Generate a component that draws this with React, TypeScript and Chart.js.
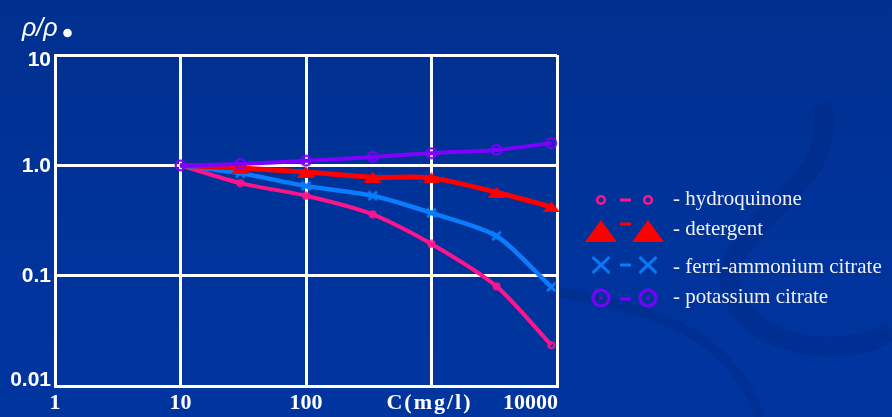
import React, { useEffect, useRef } from "react";
import { Chart, registerables } from "chart.js";

Chart.register(...registerables);

// ---- data ----
const concentrations = [10, 30, 100, 340, 1000, 3300, 9000];
const potassiumCitrate = [1.0, 1.03, 1.1, 1.19, 1.29, 1.38, 1.59];
const detergent = [1.0, 0.945, 0.87, 0.78, 0.77, 0.57, 0.42];
const ferriAmmoniumCitrate = [1.0, 0.85, 0.65, 0.53, 0.37, 0.229, 0.079];
const hydroquinone = [1.0, 0.69, 0.53, 0.36, 0.194, 0.08, 0.0235];
const seriesNames = ["hydroquinone", "detergent", "ferri-ammonium citrate", "potassium citrate"];
const xTickValues = [1, 10, 100, 1000, 10000];
const xTickLabels = ["1", "10", "100", "C(mg/l)", "10000"];
const yTickValues = [10, 1, 0.1, 0.01];
const yTickLabels = ["10", "1.0", "0.1", "0.01"];
const yAxisTitle = "ρ/ρ";

const PINK = "#ff148c";
const RED = "#ff0000";
const BLUE = "#0a7dff";
const PURPLE = "#7f00ff";
const BG = "#003399";

function makeCanvas(w: number, h: number, draw: (ctx: CanvasRenderingContext2D) => void) {
  const c = document.createElement("canvas");
  c.width = w;
  c.height = h;
  const ctx = c.getContext("2d")!;
  draw(ctx);
  return c;
}

function ringMarker(size: number, r: number, lw: number, color: string, dot: number) {
  return makeCanvas(size, size, (ctx) => {
    ctx.strokeStyle = color;
    ctx.lineWidth = lw;
    ctx.beginPath();
    ctx.arc(size / 2, size / 2, r, 0, Math.PI * 2);
    ctx.stroke();
    if (dot > 0) {
      ctx.fillStyle = color;
      ctx.fillRect(size / 2 - dot / 2, size / 2 - dot / 2, dot, dot);
    }
  });
}

function triangleMarker(w: number, h: number, color: string) {
  return makeCanvas(w, h, (ctx) => {
    ctx.fillStyle = color;
    ctx.beginPath();
    ctx.moveTo(w / 2, 0);
    ctx.lineTo(w, h);
    ctx.lineTo(0, h);
    ctx.closePath();
    ctx.fill();
  });
}

function crossMarker(w: number, h: number, lw: number, color: string) {
  return makeCanvas(w, h, (ctx) => {
    ctx.strokeStyle = color;
    ctx.lineWidth = lw;
    const p = lw / 2;
    ctx.beginPath();
    ctx.moveTo(p, p);
    ctx.lineTo(w - p, h - p);
    ctx.moveTo(w - p, p);
    ctx.lineTo(p, h - p);
    ctx.stroke();
  });
}

export default function App() {
  const ref = useRef<HTMLCanvasElement | null>(null);

  useEffect(() => {
    const canvas = ref.current;
    if (!canvas) return;

    const pinkPt = ringMarker(9, 3, 2, PINK, 0);
    const redPt = triangleMarker(18, 11, RED);
    const bluePt = crossMarker(11, 11, 2.5, BLUE);
    const purplePt = ringMarker(13, 4.8, 2.2, PURPLE, 2);

    const pinkLg = ringMarker(12, 3.8, 2.6, PINK, 0);
    const redLg = triangleMarker(32, 22, RED);
    const blueLg = crossMarker(20, 19, 3, BLUE);
    const purpleLg = ringMarker(21, 8, 3, PURPLE, 3);

    const pts = (arr: number[]) => concentrations.map((x, i) => ({ x, y: arr[i] }));
    const radii = (first: number) => concentrations.map((_, i) => (i === 0 ? first : 5));

    const decorPlugin = {
      id: "decor",
      beforeDraw(chart: any) {
        const ctx = chart.ctx as CanvasRenderingContext2D;
        ctx.save();
        ctx.strokeStyle = "rgba(0,30,115,0.22)";
        ctx.lineWidth = 10;
        ctx.beginPath();
        ctx.moveTo(560, 292);
        ctx.bezierCurveTo(650, 310, 730, 330, 760, 417);
        ctx.stroke();
        ctx.lineWidth = 20;
        ctx.beginPath();
        ctx.moveTo(820, 105);
        ctx.bezierCurveTo(850, 190, 700, 230, 735, 300);
        ctx.bezierCurveTo(760, 350, 850, 360, 892, 330);
        ctx.stroke();
        ctx.restore();
      },
      afterDraw(chart: any) {
        const ctx = chart.ctx as CanvasRenderingContext2D;
        const xs = chart.scales.x;
        const ys = chart.scales.y;
        const area = chart.chartArea;
        ctx.save();
        ctx.fillStyle = "#ffffff";
        // y tick labels
        ctx.font = "bold 21px 'Liberation Sans', Arial, sans-serif";
        ctx.textAlign = "right";
        ctx.textBaseline = "middle";
        yTickValues.forEach((v, i) => {
          let py = ys.getPixelForValue(v);
          py = Math.min(Math.max(py, area.top + 4), area.bottom - 7);
          ctx.fillText(yTickLabels[i], 51, py + 1);
        });
        // x tick labels
        ctx.font = "bold 22px 'Liberation Serif', 'Times New Roman', serif";
        xTickValues.forEach((v, i) => {
          const px = xs.getPixelForValue(v);
          const label = xTickLabels[i];
          if (i === xTickLabels.length - 1) {
            ctx.textAlign = "right";
            ctx.fillText(label, px + 1, 403);
          } else if (label.startsWith("C")) {
            ctx.textAlign = "center";
            (ctx as any).letterSpacing = "2px";
            ctx.fillText(label, px - 2, 403);
            (ctx as any).letterSpacing = "0px";
          } else {
            ctx.textAlign = "center";
            ctx.fillText(label, px, 403);
          }
        });
        // axis title
        ctx.textAlign = "left";
        ctx.textBaseline = "alphabetic";
        ctx.font = "italic 25px 'Liberation Sans', Arial, sans-serif";
        ctx.fillText(yAxisTitle, 22, 36);
        ctx.beginPath();
        ctx.arc(67.5, 33, 4.3, 0, Math.PI * 2);
        ctx.fill();

        // legend
        const rows = [
          { y: 200, c: PINK, img: pinkLg, dashY: 200, base: 205, name: seriesNames[0] },
          { y: 231, c: RED, img: redLg, dashY: 224, base: 235, name: seriesNames[1] },
          { y: 265, c: BLUE, img: blueLg, dashY: 265, base: 273, name: seriesNames[2] },
          { y: 298, c: PURPLE, img: purpleLg, dashY: 299, base: 303, name: seriesNames[3] },
        ];
        const lx1 = 601;
        const lx2 = 648;
        rows.forEach((r) => {
          ctx.drawImage(r.img, lx1 - r.img.width / 2, r.y - r.img.height / 2);
          ctx.drawImage(r.img, lx2 - r.img.width / 2, r.y - r.img.height / 2);
          ctx.fillStyle = r.c;
          ctx.fillRect(620, r.dashY - 1.5, 11, 3);
          ctx.fillStyle = "#f0f0f4";
          ctx.font = "21px 'Liberation Serif', 'Times New Roman', serif";
          ctx.textAlign = "left";
          ctx.textBaseline = "alphabetic";
          ctx.fillText("- " + r.name, 673, r.base);
        });
        ctx.restore();
      },
    };

    const chart = new Chart(canvas, {
      type: "line",
      data: {
        datasets: [
          {
            label: seriesNames[3],
            data: pts(potassiumCitrate),
            borderColor: PURPLE,
            backgroundColor: PURPLE,
            borderWidth: 4,
            pointStyle: purplePt as any,
            pointRadius: radii(5),
            tension: 0.25,
            clip: false as any,
          },
          {
            label: seriesNames[1],
            data: pts(detergent),
            borderColor: RED,
            backgroundColor: RED,
            borderWidth: 5,
            pointStyle: redPt as any,
            pointRadius: radii(0),
            tension: 0.25,
            clip: false as any,
          },
          {
            label: seriesNames[2],
            data: pts(ferriAmmoniumCitrate),
            borderColor: BLUE,
            backgroundColor: BLUE,
            borderWidth: 4.5,
            pointStyle: bluePt as any,
            pointRadius: radii(0),
            tension: 0.25,
            clip: false as any,
          },
          {
            label: seriesNames[0],
            data: pts(hydroquinone),
            borderColor: PINK,
            backgroundColor: PINK,
            borderWidth: 4,
            pointStyle: pinkPt as any,
            pointRadius: radii(0),
            tension: 0.25,
            clip: false as any,
          },
        ],
      },
      options: {
        responsive: false,
        animation: false,
        devicePixelRatio: 1,
        layout: { padding: { left: 55, top: 55, right: 892 - 557, bottom: 417 - 386 } },
        plugins: { legend: { display: false }, tooltip: { enabled: false } },
        scales: {
          x: {
            type: "logarithmic",
            min: 1,
            max: 10000,
            afterBuildTicks: (s: any) => {
              s.ticks = xTickValues.map((v) => ({ value: v }));
            },
            afterFit: (s: any) => {
              s.height = 0;
            },
            ticks: { display: false },
            grid: { color: "#ffffff", lineWidth: 3, drawTicks: false },
            border: { display: true, color: "#ffffff", width: 3 },
          },
          y: {
            type: "logarithmic",
            min: 0.01,
            max: 10,
            afterBuildTicks: (s: any) => {
              s.ticks = yTickValues.map((v) => ({ value: v }));
            },
            afterFit: (s: any) => {
              s.width = 0;
            },
            ticks: { display: false },
            grid: { color: "#ffffff", lineWidth: 3, drawTicks: false },
            border: { display: true, color: "#ffffff", width: 3 },
          },
        },
      } as any,
      plugins: [decorPlugin],
    });

    return () => chart.destroy();
  }, []);

  return (
    <div
      style={{
        position: "fixed",
        left: 0,
        top: 0,
        width: 892,
        height: 417,
        background: `linear-gradient(180deg, #00308f 0%, ${BG} 45%, #0035a0 100%)`,
      }}
    >
      <canvas ref={ref} width={892} height={417} style={{ display: "block" }} />
    </div>
  );
}
